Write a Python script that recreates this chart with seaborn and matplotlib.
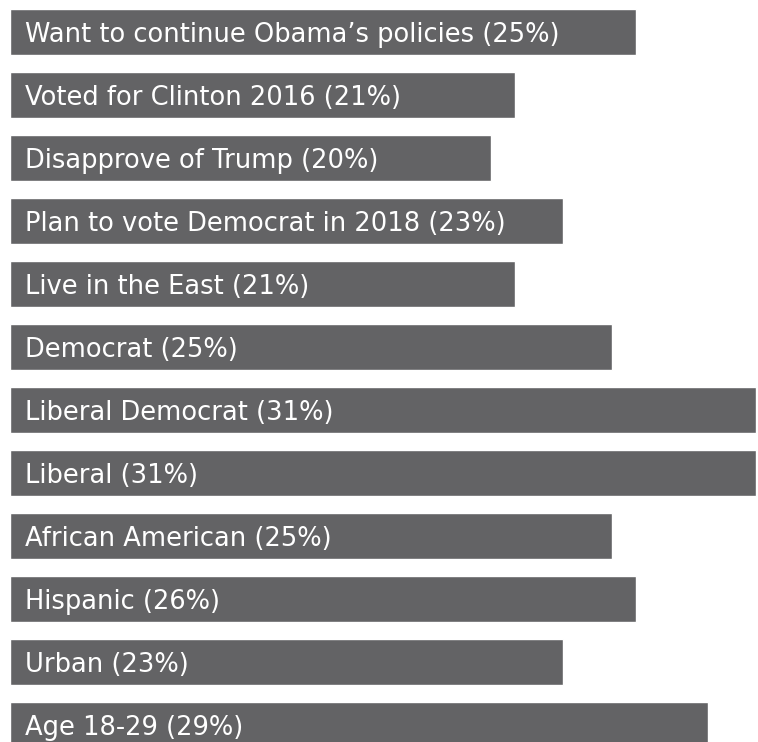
import matplotlib
matplotlib.use("Agg")
import seaborn as sns
import matplotlib.pyplot as plt
import pandas as pd

# Groups and bar lengths (percent)
groups = [
    "Want to continue Obama\u2019s policies",
    "Voted for Clinton 2016",
    "Disapprove of Trump",
    "Plan to vote Democrat in 2018",
    "Live in the East",
    "Democrat",
    "Liberal Democrat",
    "Liberal",
    "African American",
    "Hispanic",
    "Urban",
    "Age 18-29",
]
bar_values = [26, 21, 20, 23, 21, 25, 31, 31, 25, 26, 23, 29]
label_pcts = [25, 21, 20, 23, 21, 25, 31, 31, 25, 26, 23, 29]

df = pd.DataFrame({"group": groups, "value": bar_values})

sns.set_style("white")
plt.rcParams["font.family"] = ["DejaVu Sans"]

fig = plt.figure(figsize=(7.58, 7.42), dpi=100)
ax = fig.add_axes([0, 0, 1, 1])

sns.barplot(data=df, x="value", y="group", color="#636365", saturation=1,
            width=0.73, orient="h", ax=ax)

# pixel layout: x=0 at 10px, 31% at 756px; bar centres every 63px from 32px
px = 746 / 31
ax.set_xlim(-10 / px, 748 / px)
ax.set_ylim((742 - 32) / 63, -32 / 63)
ax.axis("off")

for i, (g, p) in enumerate(zip(groups, label_pcts)):
    ax.annotate(f"{g} ({p}%)", xy=(0, i), xytext=(10.8, -7.2),
                textcoords="offset points", ha="left", va="baseline",
                color="white", fontsize=18.5)

fig.savefig("out.png", dpi=100)
